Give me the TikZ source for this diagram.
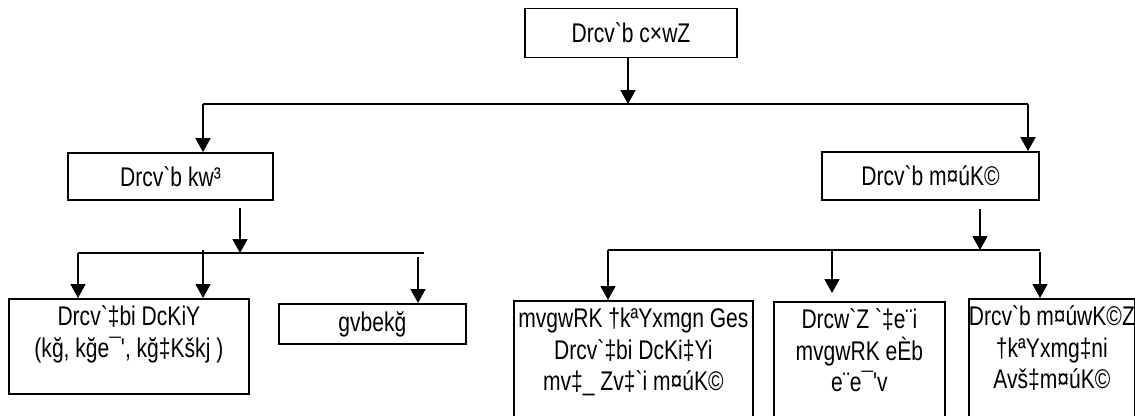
\documentclass[tikz,border=0pt]{standalone}
\usepackage{fontspec}
\newfontfamily\sutfont{Liberation Sans}[Ligatures=TeXOff,FakeStretch=0.78]
\usetikzlibrary{arrows.meta,calc}
\newcommand\fstline{\rule{0pt}{27pt}}

\begin{document}
\begin{tikzpicture}[
x=1pt,y=-1pt,
box/.style={
  draw,
  line width=1.8pt,
  inner sep=0pt,
  font=\sutfont\fontsize{27}{31.5}\selectfont
},
arr/.style={
  line width=1.8pt,
  -{Triangle[width=15pt,length=14pt]}
},
bar/.style={
  line width=1.8pt
}
]
\useasboundingbox (0,0) rectangle (1135,415);

% top level
\node[box,minimum width=212pt,minimum height=49pt] at (631,33)
  (mode) {Drcv`b c×wZ};
\node[box,minimum width=205pt,minimum height=47pt] at (170.5,176.5)
  (forces) {Drcv`b kw³};
\node[box,minimum width=217pt,minimum height=48pt] at (930.5,176)
  (relations) {Drcv`b m¤úK©};

% left branch
\node[box,anchor=north west] at (8,298)
  (means) {\parbox[c][95pt][t]{240pt}{\centering\fstline Drcv`‡bi DcKiY\\(kğ, kğe¯', kğ‡Kškj )}};
\node[box,minimum width=187pt,minimum height=40pt,anchor=north west] at (278,303)
  (labour) {gvbekğ};

% right branch
\node[box,anchor=north west] at (513,300)
  (classes) {\parbox[c][140pt][t]{239pt}{\centering\fstline mvgwRK †kªYxmgn Ges\\Drcv`‡bi DcKi‡Yi\\mv‡\_ Zv‡`i m¤úK©}};
\node[box,anchor=north west] at (773,301)
  (distrib) {\parbox[c][140pt][t]{171pt}{\centering\fstline Drcw`Z `‡e¨i\\mvgwRK eÈb\\e¨e¯'v}};
\node[box,anchor=north west] at (968,298)
  (interrel) {\parbox[c][140pt][t]{166pt}{\centering\fstline Drcv`b m¤úwK©Z\\†kªYxmg‡ni\\Avš‡m¤úK©}};

% junctions
\coordinate (j0) at (628,104);
\coordinate (l0) at (203,104);
\coordinate (r0) at (1028,104);
\coordinate (j1) at (240,253);
\coordinate (l1) at (78,253);
\coordinate (m1) at (203,250);
\coordinate (r1) at (424,253);
\coordinate (k1) at (418,257);
\coordinate (j2) at (980,250);
\coordinate (l2) at (608,250);
\coordinate (m2) at (832,250);
\coordinate (r2) at (1040,250);
\coordinate (k2) at (1040,252);

\draw[arr] (mode.south -| j0) -- (j0);
\draw[bar] (l0) -- (r0);
\draw[arr] (l0) -- (l0 |- forces.north);
\draw[arr] (r0) -- (r0 |- relations.north);

\draw[arr] ($(j1 |- forces.south)+(0,7)$) -- (j1);
\draw[bar] (l1) -- (r1);
\draw[arr] (l1) -- (l1 |- means.north);
\draw[arr] (m1) -- (m1 |- means.north);
\draw[arr] (k1) -- (k1 |- labour.north);

\draw[arr] ($(j2 |- relations.south)+(0,8)$) -- (j2);
\draw[bar] (l2) -- (r2);
\draw[arr] (l2) -- (l2 |- classes.north);
\draw[arr] (m2) -- ($(m2 |- distrib.north)+(0,-8)$);
\draw[arr] (k2) -- (k2 |- interrel.north);
\end{tikzpicture}
\end{document}
